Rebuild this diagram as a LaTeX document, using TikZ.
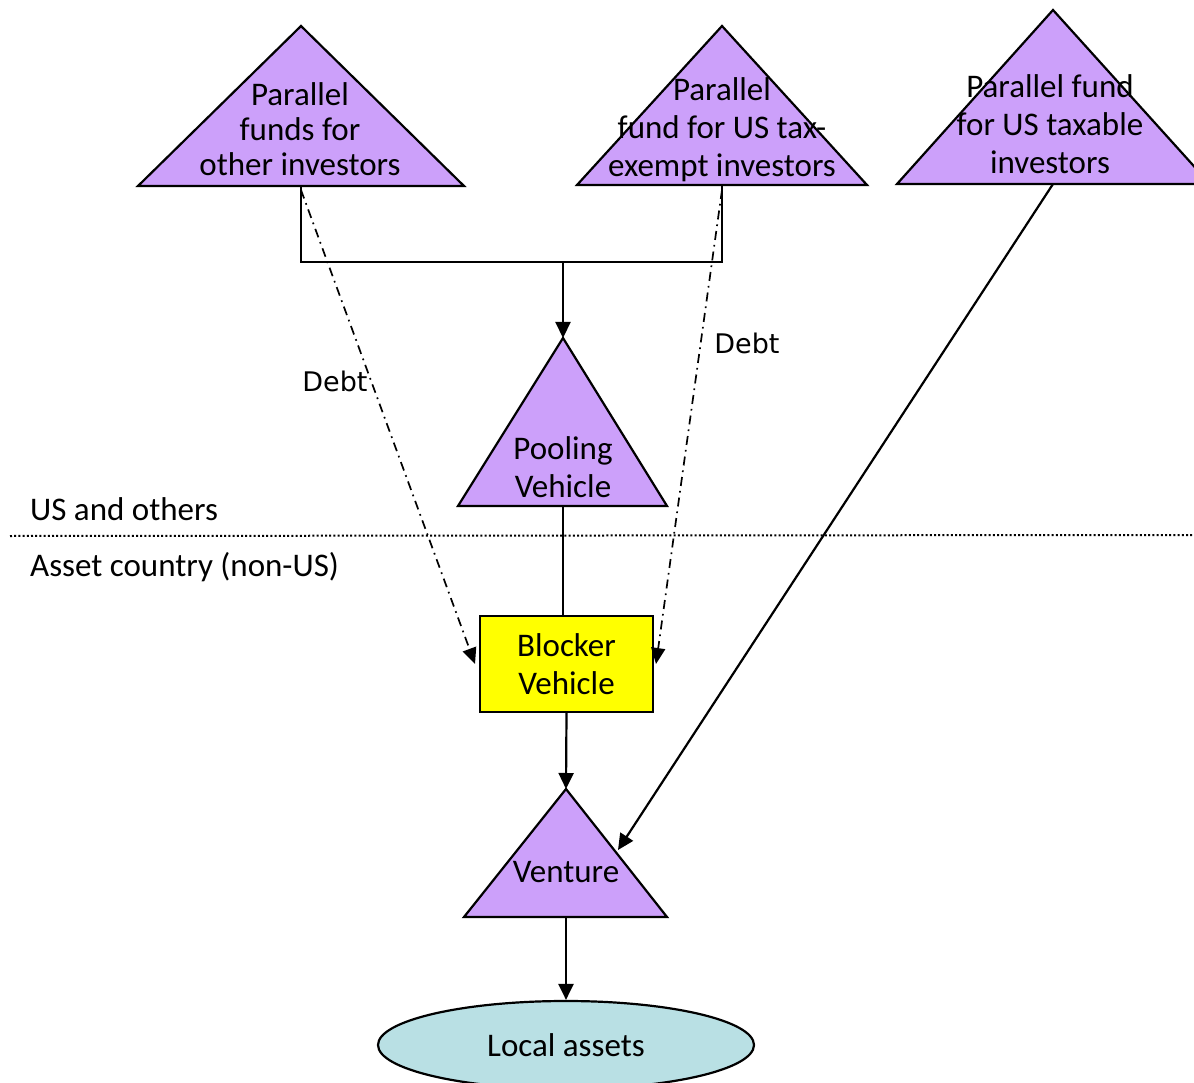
\documentclass[tikz,border=0pt]{standalone}
\usepackage{fontspec}
\setmainfont{Carlito}
\newfontfamily\debtfont{DejaVu Sans}
\usetikzlibrary{arrows.meta,shapes.geometric}
\definecolor{fundfill}{RGB}{204,160,250}
\definecolor{blockfill}{RGB}{255,255,0}
\definecolor{assetfill}{RGB}{185,224,228}
\tikzset{
  body/.style={draw=black,line width=2.2pt,line join=miter},
  fund/.style={body,fill=fundfill},
  lbl/.style={inner sep=0pt,font=\fontsize{33}{38}\selectfont,align=center},
  side/.style={inner sep=0pt,font=\fontsize{33}{38}\selectfont,anchor=west},
  debt/.style={inner sep=0pt,font=\debtfont\fontsize{27}{32}\selectfont},
  flow/.style={draw=black,line width=2.2pt,-{Triangle[length=16pt,width=15pt]}},
  link/.style={draw=black,line width=2.2pt},
  loan/.style={draw=black,line width=1.7pt,dash pattern=on 9pt off 5pt on 1.7pt off 5pt,-{Triangle[length=16pt,width=14pt]}},
  border/.style={draw=black,line width=2pt,dash pattern=on 2pt off 2.2pt}
}
\begin{document}
\begin{tikzpicture}[x=1pt,y=-1pt]
\useasboundingbox (0,0) rectangle (1194,1083);
\clip (0,0) rectangle (1194,1083);

% jurisdiction boundary
\coordinate (bl) at (10,536);
\coordinate (br) at (1194,535);
\path[border] (bl) -- (br);
\node[side] (us) at (30,509) {US and others};
\node[side] (ac) at (30,567) {Asset country (non-US)};

% parallel funds
\path[fund] (301,26) -- (464,186) -- (138,186) -- cycle;
\coordinate (pf1) at (301,186);
\path[fund] (722,26) -- (867,185) -- (577,185) -- cycle;
\coordinate (pf2) at (722,185);
\path[fund] (1053,10) -- (1210,184) -- (897,184) -- cycle;
\coordinate (pf3) at (1053,184);
\node[lbl,font=\fontsize{33}{35}\selectfont] (t1) at (300,129) {Parallel\\funds for\\other investors};
\node[lbl] (t2) at (722,130) {Parallel\\fund for US tax-\\exempt investors};
\node[lbl] (t3) at (1050,124) {Parallel fund\\for US taxable\\investors};

% pooling vehicle
\path[fund] (563,338) -- (667,506) -- (458,506) -- cycle;
\coordinate (pvtop) at (563,338);
\coordinate (pvbot) at (563,506);
\node[lbl] (pv) at (563,467) {Pooling\\Vehicle};

% blocker vehicle
\node[body,fill=blockfill,minimum width=173pt,minimum height=96pt,inner sep=0pt,
      font=\fontsize{33}{38}\selectfont,align=center] (bv) at (566.5,664) {Blocker\\Vehicle};

% venture
\path[fund] (566,789) -- (667,917) -- (464,917) -- cycle;
\coordinate (vtop) at (566,789);
\coordinate (vbot) at (566,917);
\coordinate (vside) at (618,850);
\node[lbl] (vn) at (566,872) {Venture};

% local assets
\node[body,fill=assetfill,ellipse,minimum width=376pt,minimum height=88pt,inner sep=0pt,
      font=\fontsize{33}{38}\selectfont] (la) at (566,1045) {Local assets};

% equity flows
\coordinate (j) at (563,262);
\path[link] (pf1) |- (j);
\path[link] (pf2) |- (j);
\path[flow] (j) -- (pvtop);
\path[link] (pvbot) -- (bv.north -| pvbot);
\path[flow] (bv.south) -- (vtop);
\path[flow] (vbot) -- (la.north);
\path[flow] (pf3) -- (vside);

% debt financing
\coordinate (d1) at (301,190);
\coordinate (d2) at (722,190);
\path[loan] (d1) -- (475,664);
\path[loan] (d2) -- (656,664);
\node[debt] (debt1) at (335,381) {Debt};
\node[debt] (debt2) at (747,343) {Debt};
\end{tikzpicture}
\end{document}
